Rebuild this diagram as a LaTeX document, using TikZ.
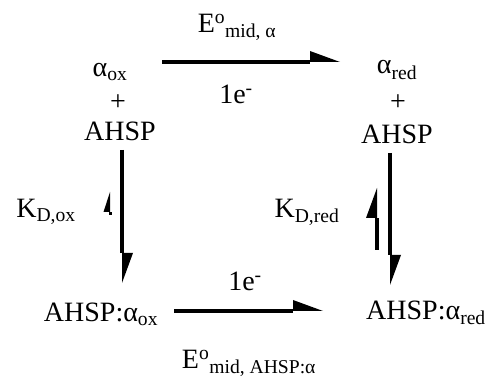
\documentclass[tikz,border=0pt]{standalone}
\usepackage{fontspec}
\setmainfont{Liberation Serif}
\usetikzlibrary{arrows.meta}
\tikzset{
  lbl/.style={inner sep=0pt, font=\fontsize{28}{30}\selectfont},
  conn/.style={line width=3.2pt, -{Triangle[harpoon, length=30pt, width=22pt, line width=0pt]}},
  smallconn/.style={line width=3pt, -{Triangle[harpoon, length=20pt, width=13pt, line width=0pt]}}
}
\begin{document}
\begin{tikzpicture}[x=1pt,y=-1pt]
\useasboundingbox (0,0) rectangle (491,379);
% species
\node[lbl] (aox) at (110,72) {α\textsubscript{ox}};
\node[lbl] (pl) at (118,103) {+};
\node[lbl] (ahl) at (120,131) {AHSP};
\node[lbl] (ared) at (397,70) {α\textsubscript{red}};
\node[lbl] (pr) at (398,103) {+};
\node[lbl] (ahr) at (397,134) {AHSP};
\node[lbl] (cox) at (101,314) {AHSP:α\textsubscript{ox}};
\node[lbl] (cred) at (426,313) {AHSP:α\textsubscript{red}};
% labels
\node[lbl] (etop) at (237,27) {E\textsuperscript{o}\textsubscript{mid, α}};
\node[lbl] (etop1) at (236,94) {1e\textsuperscript{-}};
\node[lbl] (kox) at (46,212) {K\textsubscript{D,ox}};
\node[lbl] (kred) at (307,212) {K\textsubscript{D,red}};
\node[lbl] (ebot1) at (245,281) {1e\textsuperscript{-}};
\node[lbl] (ebot) at (249,363) {E\textsuperscript{o}\textsubscript{mid, AHSP:α}};
% connector end points
\coordinate (t1) at (162,62); \coordinate (t2) at (340,62);
\coordinate (b1) at (174,311); \coordinate (b2) at (323,311);
\coordinate (l1) at (122,150); \coordinate (l2) at (122,283);
\coordinate (lu1) at (110,215); \coordinate (lu2) at (110,192);
\coordinate (r1) at (390,153); \coordinate (r2) at (390,285);
\coordinate (ru1) at (377,250); \coordinate (ru2) at (377,188);
\draw[conn] (t1) -- (t2);
\draw[conn] (b1) -- (b2);
\draw[conn] (l1) -- (l2);
\draw[conn] (r1) -- (r2);
\draw[smallconn] (lu1) -- (lu2);
\draw[conn] (ru1) -- (ru2);
\end{tikzpicture}
\end{document}
